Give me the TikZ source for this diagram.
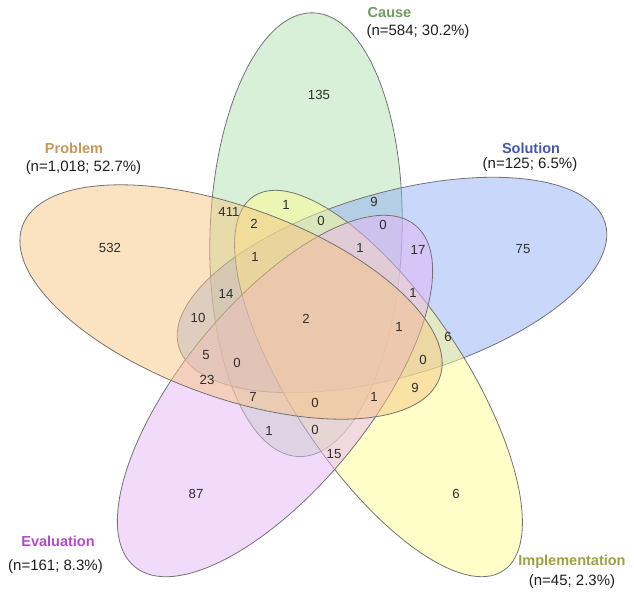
\documentclass[tikz,border=0pt]{standalone}
\usepackage{fontspec}
\setmainfont{Liberation Sans}
\definecolor{causeF}{RGB}{175,225,175}
\definecolor{solF}{RGB}{145,175,245}
\definecolor{implF}{RGB}{255,251,145}
\definecolor{evalF}{RGB}{229,181,245}
\definecolor{probF}{RGB}{247,197,129}
\definecolor{causeT}{RGB}{107,158,90}
\definecolor{solT}{RGB}{68,86,176}
\definecolor{implT}{RGB}{158,160,64}
\definecolor{evalT}{RGB}{176,76,200}
\definecolor{probT}{RGB}{200,151,90}
\definecolor{lineC}{RGB}{115,115,115}

\begin{document}

\begin{tikzpicture}[x=1pt,y=-1pt,
  setshape/.style={draw=lineC, line width=0.8pt, fill opacity=0.5},
  num/.style={font=\fontsize{13.2}{15}\selectfont, text=black!82, inner sep=0pt},
  setname/.style={font=\fontsize{14.5}{16}\selectfont\bfseries, inner sep=0pt},
  setcount/.style={font=\fontsize{15}{17}\selectfont, text=black!88, inner sep=0pt}]
\useasboundingbox (0,0) rectangle (634,595);
% ellipses
\path[setshape, fill=causeF, rotate around={88.1:(306,234.7)}] (306,234.7) ellipse [x radius=222pt, y radius=96pt];
\path[setshape, fill=solF, rotate around={16.1:(392,285)}] (392,285) ellipse [x radius=222pt, y radius=92pt];
\path[setshape, fill=implF, rotate around={-56.3:(378.5,383.5)}] (378.5,383.5) ellipse [x radius=225pt, y radius=86pt];
\path[setshape, fill=evalF, rotate around={50.6:(275,396)}] (275,396) ellipse [x radius=221pt, y radius=93pt];
\path[setshape, fill=probF, rotate around={160:(231,302)}] (231,302) ellipse [x radius=222pt, y radius=95pt];
% set labels
\node[setname, text=causeT] (lcause) at (389.5,13) {Cause};
\node[setcount] (ccause) at (418,32) {(n=584; 30.2\%)};
\node[setname, text=probT] (lprob) at (74,148) {Problem};
\node[setcount] (cprob) at (83.5,168) {(n=1,018; 52.7\%)};
\node[setname, text=solT] (lsol) at (531,148) {Solution};
\node[setcount] (csol) at (530,165) {(n=125; 6.5\%)};
\node[setname, text=evalT] (leval) at (58,541) {Evaluation};
\node[setcount] (ceval) at (55.5,567) {(n=161; 8.3\%)};
\node[setname, text=implT] (limpl) at (572,562) {Implementation};
\node[setcount] (cimpl) at (572,582) {(n=45; 2.3\%)};
% region counts
\node[num] (r01) at (229,212) {411};
\node[num] (r02) at (254,224) {2};
\node[num] (r03) at (286,205) {1};
\node[num] (r04) at (321,221) {0};
\node[num] (r05) at (374,202) {9};
\node[num] (r06) at (383,225) {0};
\node[num] (r07) at (360,248) {1};
\node[num] (r08) at (418,250) {17};
\node[num] (r09) at (255,257) {1};
\node[num] (r10) at (226,294) {14};
\node[num] (r11) at (413,293) {1};
\node[num] (r12) at (198,318) {10};
\node[num] (r13) at (306,319) {2};
\node[num] (r14) at (399,327) {1};
\node[num] (r15) at (448,337) {6};
\node[num] (r16) at (206,355) {5};
\node[num] (r17) at (237,363) {0};
\node[num] (r18) at (423,360) {0};
\node[num] (r19) at (207,380) {23};
\node[num] (r20) at (415,388) {9};
\node[num] (r21) at (253,397) {7};
\node[num] (r22) at (374,397) {1};
\node[num] (r23) at (315,403) {0};
\node[num] (r24) at (110,248) {532};
\node[num] (r25) at (319,95) {135};
\node[num] (r26) at (523,249) {75};
\node[num] (r27) at (196,494) {87};
\node[num] (r28) at (269,431) {1};
\node[num] (r29) at (315,430) {0};
\node[num] (r30) at (334,454) {15};
\node[num] (r31) at (456,494) {6};
\end{tikzpicture}

\end{document}
